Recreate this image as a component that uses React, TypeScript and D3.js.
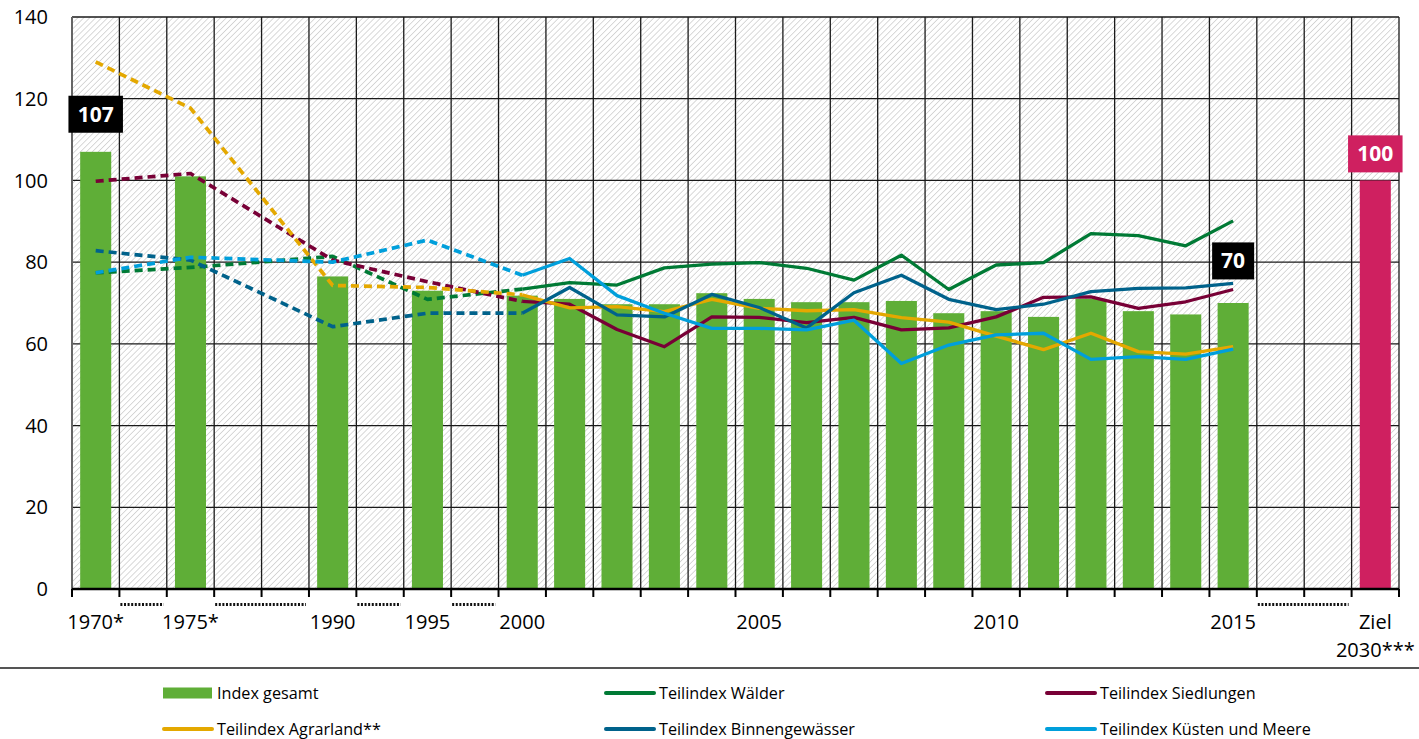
import React from "react";
import * as d3 from "d3";

// ---------- DATA ----------
const slots = [
  "1970", "g1", "1975", "g2", "g3", "1990", "g4", "1995", "g5",
  "2000", "2001", "2002", "2003", "2004", "2005", "2006", "2007", "2008",
  "2009", "2010", "2011", "2012", "2013", "2014", "2015", "g6", "g7", "Ziel",
];
const years = [
  "1970", "1975", "1990", "1995", "2000", "2001", "2002", "2003", "2004", "2005",
  "2006", "2007", "2008", "2009", "2010", "2011", "2012", "2013", "2014", "2015",
];
const indexGesamt = [107, 101, 76.5, 73, 71.8, 71, 69.7, 69.7, 72.4, 71, 70.2, 70.2, 70.5, 67.5, 68, 66.6, 71, 68, 67.2, 70];
const waelder = [77.4, 78.7, 81.4, 70.9, 73.4, 75.0, 74.4, 78.6, 79.5, 79.9, 78.5, 75.6, 81.7, 73.3, 79.3, 79.9, 87.0, 86.5, 84.0, 90.1];
const siedlungen = [99.8, 101.7, 80.5, 75.2, 70.4, 69.7, 63.5, 59.3, 66.6, 66.5, 65.2, 66.5, 63.4, 63.9, 66.6, 71.4, 71.5, 68.7, 70.3, 73.3];
const agrarland = [129, 117.7, 74.3, 73.8, 72.0, 68.8, 69.1, 67.9, 70.9, 68.7, 68.1, 68.4, 66.4, 65.3, 61.9, 58.6, 62.6, 58.1, 57.5, 59.3];
const binnen = [82.8, 80.5, 64.2, 67.5, 67.5, 73.8, 67.1, 66.6, 72.1, 68.9, 63.9, 72.5, 76.8, 70.9, 68.4, 69.7, 72.8, 73.6, 73.7, 74.8];
const kuesten = [77.4, 81.2, 80.0, 85.4, 76.8, 80.9, 71.8, 67.5, 63.8, 63.8, 63.4, 65.8, 55.2, 59.7, 62.2, 62.6, 56.2, 56.9, 56.2, 58.7];
const zielSlot = "Ziel";
const zielValue = 100;
const yTicks = [0, 20, 40, 60, 80, 100, 120, 140];
const xLabels = [
  { slot: "1970", text: "1970*" },
  { slot: "1975", text: "1975*" },
  { slot: "1990", text: "1990" },
  { slot: "1995", text: "1995" },
  { slot: "2000", text: "2000" },
  { slot: "2005", text: "2005" },
  { slot: "2010", text: "2010" },
  { slot: "2015", text: "2015" },
];
const annotations = [
  { slot: "1970", text: "107", at: 116.2, fill: "#000000" },
  { slot: "2015", text: "70", at: 80.3, fill: "#000000" },
  { slot: "Ziel", text: "100", at: 106.5, fill: "#cf2060" },
];
const seriesNames = ["Teilindex Wälder", "Teilindex Siedlungen", "Teilindex Agrarland**", "Teilindex Binnengewässer", "Teilindex Küsten und Meere"];
const seriesValues = [waelder, siedlungen, agrarland, binnen, kuesten];
const seriesColors = ["#007a35", "#780036", "#e4a800", "#00628b", "#009fdb"];
const dashedUntil = "2000";

// ---------- LAYOUT ----------
const W = 1419;
const H = 739;
const left = 72, right = 1399, top = 17, bottom = 589;
const FONT = "'Open Sans', 'Noto Sans', sans-serif";

export default function App() {
  const x = d3.scaleBand<string>().domain(slots).range([left, right]).padding(0);
  const y = d3.scaleLinear().domain([0, 140]).range([bottom, top]);
  const bw = x.bandwidth();
  const barW = bw * 0.655;
  const cx = (s: string) => (x(s) as number) + bw / 2;

  const line = d3
    .line<[string, number]>()
    .x((d) => cx(d[0]))
    .y((d) => y(d[1]));

  const cut = years.indexOf(dashedUntil);

  const runs: [number, number][] = [];
  slots.forEach((s, i) => {
    if (s.startsWith("g")) {
      const last = runs[runs.length - 1];
      if (last && last[1] === i - 1) last[1] = i;
      else runs.push([i, i]);
    }
  });

  const legendItems = [
    { name: "Index gesamt", color: "#5fae37", bar: true },
    ...seriesNames.map((n, i) => ({ name: n, color: seriesColors[i], bar: false })),
  ];
  const legendCols = [163, 605, 1046];
  const legendRows = [693, 729];

  return (
    <svg
      width={W}
      height={H}
      style={{ position: "absolute", left: 0, top: 0, display: "block", background: "#fff" }}
      fontFamily={FONT}
    >
      <defs>
        <pattern id="hatch" patternUnits="userSpaceOnUse" width={4.2} height={4.2} patternTransform="rotate(45)">
          <rect width={4.2} height={4.2} fill="#ffffff" />
          <line x1={0} y1={0} x2={0} y2={4.2} stroke="#cdcdcd" strokeWidth={1.5} />
        </pattern>
      </defs>

      <rect x={left} y={top} width={right - left} height={bottom - top} fill="url(#hatch)" />

      {yTicks.map((t) => (
        <line key={"h" + t} x1={left} x2={right} y1={y(t)} y2={y(t)} stroke="#1a1a1a" strokeWidth={1.3} />
      ))}
      {slots.map((s, i) => (
        <line
          key={"v" + s}
          x1={x(s) as number}
          x2={x(s) as number}
          y1={top}
          y2={bottom}
          stroke={i === 0 ? "#666" : "#1a1a1a"}
          strokeWidth={i === 0 ? 2 : 1.3}
        />
      ))}
      <line x1={right} x2={right} y1={top} y2={bottom} stroke="#1a1a1a" strokeWidth={1.3} />

      {years.map((yr, i) => (
        <rect
          key={"b" + yr}
          x={cx(yr) - barW / 2}
          width={barW}
          y={y(indexGesamt[i])}
          height={y(0) - y(indexGesamt[i])}
          fill="#5fae37"
        />
      ))}
      <rect x={cx(zielSlot) - barW / 2} width={barW} y={y(zielValue)} height={y(0) - y(zielValue)} fill="#cf2060" />

      {seriesValues.map((vals, si) => {
        const pts: [string, number][] = years.map((yr, i) => [yr, vals[i]]);
        return (
          <g key={"s" + si}>
            <path
              d={line(pts.slice(0, cut + 1)) || ""}
              fill="none"
              stroke={seriesColors[si]}
              strokeWidth={3.7}
              strokeDasharray="8 5"
              strokeLinejoin="round"
            />
            <path
              d={line(pts.slice(cut)) || ""}
              fill="none"
              stroke={seriesColors[si]}
              strokeWidth={3.3}
              strokeLinejoin="round"
            />
          </g>
        );
      })}

      {annotations.map((a) => {
        const w = a.text.length * 12.5 + 17;
        const h = 37;
        return (
          <g key={"a" + a.slot}>
            <rect x={cx(a.slot) - w / 2} y={y(a.at) - h / 2} width={w} height={h} fill={a.fill} />
            <text x={cx(a.slot)} y={y(a.at)} dy="0.36em" textAnchor="middle" fill="#fff" fontWeight={700} fontSize={21}>
              {a.text}
            </text>
          </g>
        );
      })}

      <line x1={left} x2={right} y1={bottom} y2={bottom} stroke="#000" strokeWidth={2.5} />
      {slots.map((s) => (
        <line key={"t" + s} x1={x(s) as number} x2={x(s) as number} y1={bottom} y2={bottom + 8} stroke="#000" strokeWidth={2} />
      ))}
      <line x1={right} x2={right} y1={bottom} y2={bottom + 8} stroke="#000" strokeWidth={2} />
      {runs.map(([a, b]) => (
        <line
          key={"d" + a}
          x1={(x(slots[a]) as number) + 1}
          x2={(x(slots[b]) as number) + bw - 3}
          y1={604.5}
          y2={604.5}
          stroke="#111"
          strokeWidth={2.8}
          strokeDasharray="2 1.6"
        />
      ))}
      {xLabels.map((l) => (
        <text key={"xl" + l.slot} x={cx(l.slot)} y={622} dy="0.36em" textAnchor="middle" fontSize={20} fill="#000">
          {l.text}
        </text>
      ))}
      <text x={cx(zielSlot)} y={622} dy="0.36em" textAnchor="middle" fontSize={20} fill="#000">
        Ziel
      </text>
      <text x={cx(zielSlot)} y={650} dy="0.36em" textAnchor="middle" fontSize={20} fill="#000">
        2030***
      </text>

      {yTicks.map((t) => (
        <text key={"yl" + t} x={48} y={y(t)} dy="0.36em" textAnchor="end" fontSize={20} fill="#000">
          {t}
        </text>
      ))}

      <line x1={0} x2={W} y1={668} y2={668} stroke="#555" strokeWidth={2} />

      {legendItems.map((it, i) => {
        const lx = legendCols[i % 3];
        const ly = legendRows[Math.floor(i / 3)];
        return (
          <g key={"lg" + i}>
            {it.bar ? (
              <rect x={lx} y={ly - 5.5} width={49} height={11} fill={it.color} />
            ) : (
              <line x1={lx + 1} x2={lx + 49} y1={ly} y2={ly} stroke={it.color} strokeWidth={4} strokeLinecap="round" />
            )}
            <text x={lx + 54} y={ly} dy="0.35em" fontSize={16.2} fill="#000">
              {it.name}
            </text>
          </g>
        );
      })}
    </svg>
  );
}
